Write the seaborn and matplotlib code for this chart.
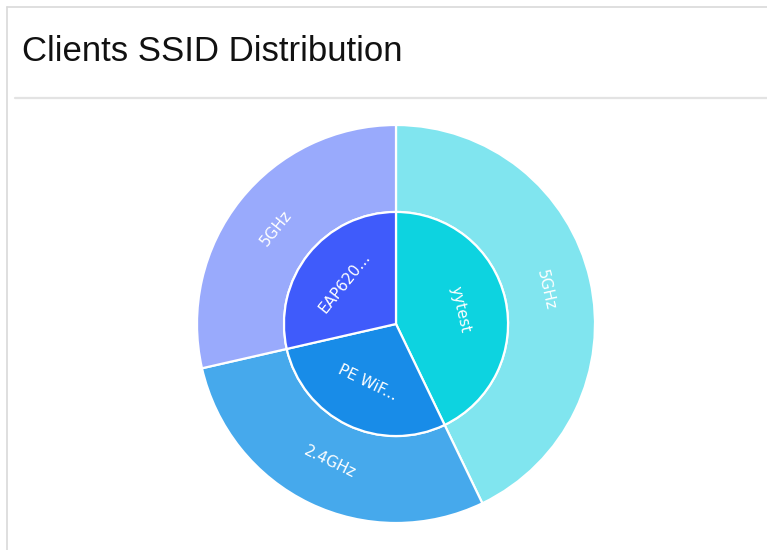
import numpy as np
import matplotlib
matplotlib.use("Agg")
import matplotlib.pyplot as plt
import seaborn as sns

# data
ssid_names = ["yytest", "PE WiF...", "EAP620..."]
ssid_clients = [3, 2, 2]
band_names = ["5GHz", "2.4GHz", "5GHz"]
band_clients = [3, 2, 2]

inner_colors = ["#0dd3e0", "#188ce8", "#3f5bfb"]
outer_colors = ["#80e5ef", "#46a9ec", "#99aafc"]

sns.set_theme(style="white")
plt.rcParams["font.family"] = ["DejaVu Sans"]

fig = plt.figure(figsize=(7.67, 5.5), dpi=100)
fig.patch.set_facecolor("white")

# card frame + header separator
fig.add_artist(plt.Line2D([7 / 767, 7 / 767], [0, 1 - 7 / 550], color="#d9d9d9", lw=1.2))
fig.add_artist(plt.Line2D([7 / 767, 1], [1 - 7 / 550, 1 - 7 / 550], color="#d9d9d9", lw=1.2))
fig.add_artist(plt.Line2D([15 / 767, 1], [1 - 98 / 550, 1 - 98 / 550], color="#e3e3e3", lw=1.6))
fig.text(22 / 767, 1 - 61 / 550, "Clients SSID Distribution", fontsize=25,
         family="Liberation Sans", color="#111111", va="baseline", ha="left")

# pie axes, centre at (396, 324) px, outer radius ~199 px
cx, cy, R = 396, 324, 199
ax = fig.add_axes([(cx - R) / 767, (550 - cy - R) / 550, 2 * R / 767, 2 * R / 550])
r_in = 0.563

wp = dict(edgecolor="white", linewidth=1.6)
ax.pie(band_clients, radius=1.0, colors=outer_colors, startangle=90, counterclock=False,
       wedgeprops=dict(width=1.0 - r_in, **wp))
ax.pie(ssid_clients, radius=r_in, colors=inner_colors, startangle=90, counterclock=False,
       wedgeprops=wp)
ax.set_xlim(-1, 1)
ax.set_ylim(-1, 1)
ax.set_aspect("equal")
ax.axis("off")


def add_labels(names, vals, r):
    total = sum(vals)
    start = 0.0
    for name, v in zip(names, vals):
        mid = start + v / total * 180.0  # clockwise from top
        start += v / total * 360.0
        a = np.deg2rad(90 - mid)
        rot = ((-mid + 90) % 180) - 90  # tangential, kept readable
        ax.text(r * np.cos(a), r * np.sin(a), name, rotation=rot, rotation_mode="anchor",
                ha="center", va="center", color="white", fontsize=11)


add_labels(band_names, band_clients, 0.77)
add_labels(ssid_names, ssid_clients, 0.33)

fig.savefig("out.png", dpi=100, facecolor="white")
